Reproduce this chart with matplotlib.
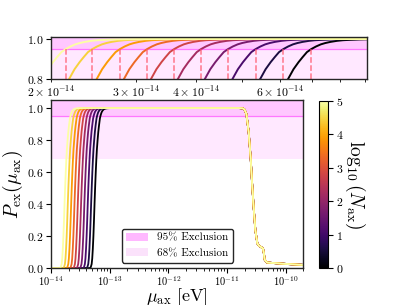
"""Exclusion probability vs axion mass, with zoomed panel of the rising edge."""
import numpy as np
import matplotlib
matplotlib.use("Agg")
import matplotlib.pyplot as plt
from matplotlib.patches import Patch

plt.rcParams["font.family"] = "serif"
plt.rcParams["font.serif"] = ["cmr10", "DejaVu Serif"]
plt.rcParams["mathtext.fontset"] = "cm"
plt.rcParams["axes.formatter.use_mathtext"] = True

# log10(N_ax) of each curve, and mass where each curve crosses 0.95 [eV]
log_n = [0.0, 0.556, 1.111, 1.667, 2.222, 2.778, 3.333, 3.889, 4.444, 5.0]
x95 = [6.966e-14, 6.094e-14, 5.336e-14, 4.674e-14, 4.107e-14,
       3.610e-14, 3.171e-14, 2.783e-14, 2.438e-14, 2.146e-14]

# shape of the rising edge: offset in log10(mass) from the 0.95 point
rise_dlog = [-0.18, -0.165, -0.15, -0.14, -0.13, -0.12, -0.11, -0.10, -0.09,
             -0.08, -0.07, -0.06, -0.0486, -0.037, -0.0265, -0.018, -0.009,
             0.0, 0.01, 0.02, 0.0292, 0.04, 0.0537, 0.066, 0.0814, 0.10,
             0.12, 0.16, 0.20]
rise_p = [0.0, 0.006, 0.025, 0.06, 0.12, 0.20, 0.30, 0.41, 0.51,
          0.60, 0.68, 0.745, 0.80, 0.85, 0.885, 0.91, 0.935,
          0.95, 0.963, 0.9735, 0.98, 0.9857, 0.991, 0.994, 0.996, 0.9978,
          0.9988, 0.9997, 1.0]

# high-mass drop shared by all curves
drop_logx = [-10.80, -10.727, -10.70, -10.669, -10.630, -10.596, -10.574,
             -10.545, -10.516, -10.482, -10.455, -10.426, -10.386, -10.370,
             -10.357, -10.318, -10.187, -9.95, -9.70]
drop_p = [1.0, 0.998, 0.99, 0.963, 0.85, 0.687, 0.543,
          0.379, 0.236, 0.154, 0.14, 0.133, 0.123, 0.09,
          0.052, 0.035, 0.031, 0.025, 0.02]

cmap = plt.get_cmap("inferno")
norm = matplotlib.colors.Normalize(vmin=0, vmax=5)
col95 = "#ffb8ff"
col68 = "#fbe2fb"

fig = plt.figure(figsize=(4.07, 3.05), dpi=100)
ax_top = fig.add_axes([0.1253, 0.740, 0.7764, 0.1387])
ax = fig.add_axes([0.1253, 0.121, 0.6199, 0.551])
cax = fig.add_axes([0.7838, 0.121, 0.0228, 0.548])

for a in (ax, ax_top):
    a.axhspan(0.68, 1.2, color="#ff66ff", alpha=0.15, lw=0)
    a.axhspan(0.95, 1.2, color="#ff33ff", alpha=0.18, lw=0)
    a.axhline(0.95, color="#ff77ff", lw=0.9)

for ln, xc in zip(log_n, x95):
    xs = [1e-14] + [xc * 10 ** d for d in rise_dlog] + [10 ** v for v in drop_logx]
    ps = [0.0] + rise_p + drop_p
    c = cmap(norm(ln))
    ax.plot(xs, ps, color=c, lw=1.3)
    ax_top.plot(xs, ps, color=c, lw=1.4)
    ax_top.plot([xc, xc], [0.8, 0.95], color="#ff5a6e", ls="--", lw=1.1, alpha=0.8)

ax.set_xscale("log")
ax.set_xlim(1e-14, 2e-10)
ax.set_ylim(0, 1.05)
ax.set_yticks([0.0, 0.2, 0.4, 0.6, 0.8, 1.0])
ax.tick_params(labelsize=8.5, pad=2)
ax.tick_params(axis="x", labelsize=7.5, pad=1)
ax.set_xlabel(r"$\mu_{\rm ax}\ [{\rm eV}]$", fontsize=13)
ax.xaxis.set_label_coords(0.5, -0.11)
ax.set_ylabel(r"$P_{\rm ex}(\mu_{\rm ax})$", fontsize=14, labelpad=1)

handles = [Patch(facecolor=col95, label="95% Exclusion"),
           Patch(facecolor=col68, label="68% Exclusion")]
leg = ax.legend(handles=handles, loc="lower center", fontsize=8, framealpha=1,
                edgecolor="0.15", fancybox=True)
leg.get_frame().set_linewidth(1.0)

ax_top.set_xscale("log")
ax_top.set_xlim(2e-14, 9.1e-14)
ax_top.set_ylim(0.8, 1.01)
ax_top.set_yticks([0.8, 1.0])
ax_top.tick_params(labelsize=8.5, which="both", pad=2)

sm = matplotlib.cm.ScalarMappable(norm=norm, cmap=cmap)
cb = fig.colorbar(sm, cax=cax, ticks=[0, 1, 2, 3, 4, 5])
cb.ax.tick_params(labelsize=8.5, pad=2)
cb.set_label(r"$\log_{10}(N_{\rm ax})$", fontsize=14, rotation=270, labelpad=17)

for a in (ax, ax_top):
    for s in a.spines.values():
        s.set_linewidth(1.0)
        s.set_color("0.15")

fig.savefig("out.png", dpi=100)
